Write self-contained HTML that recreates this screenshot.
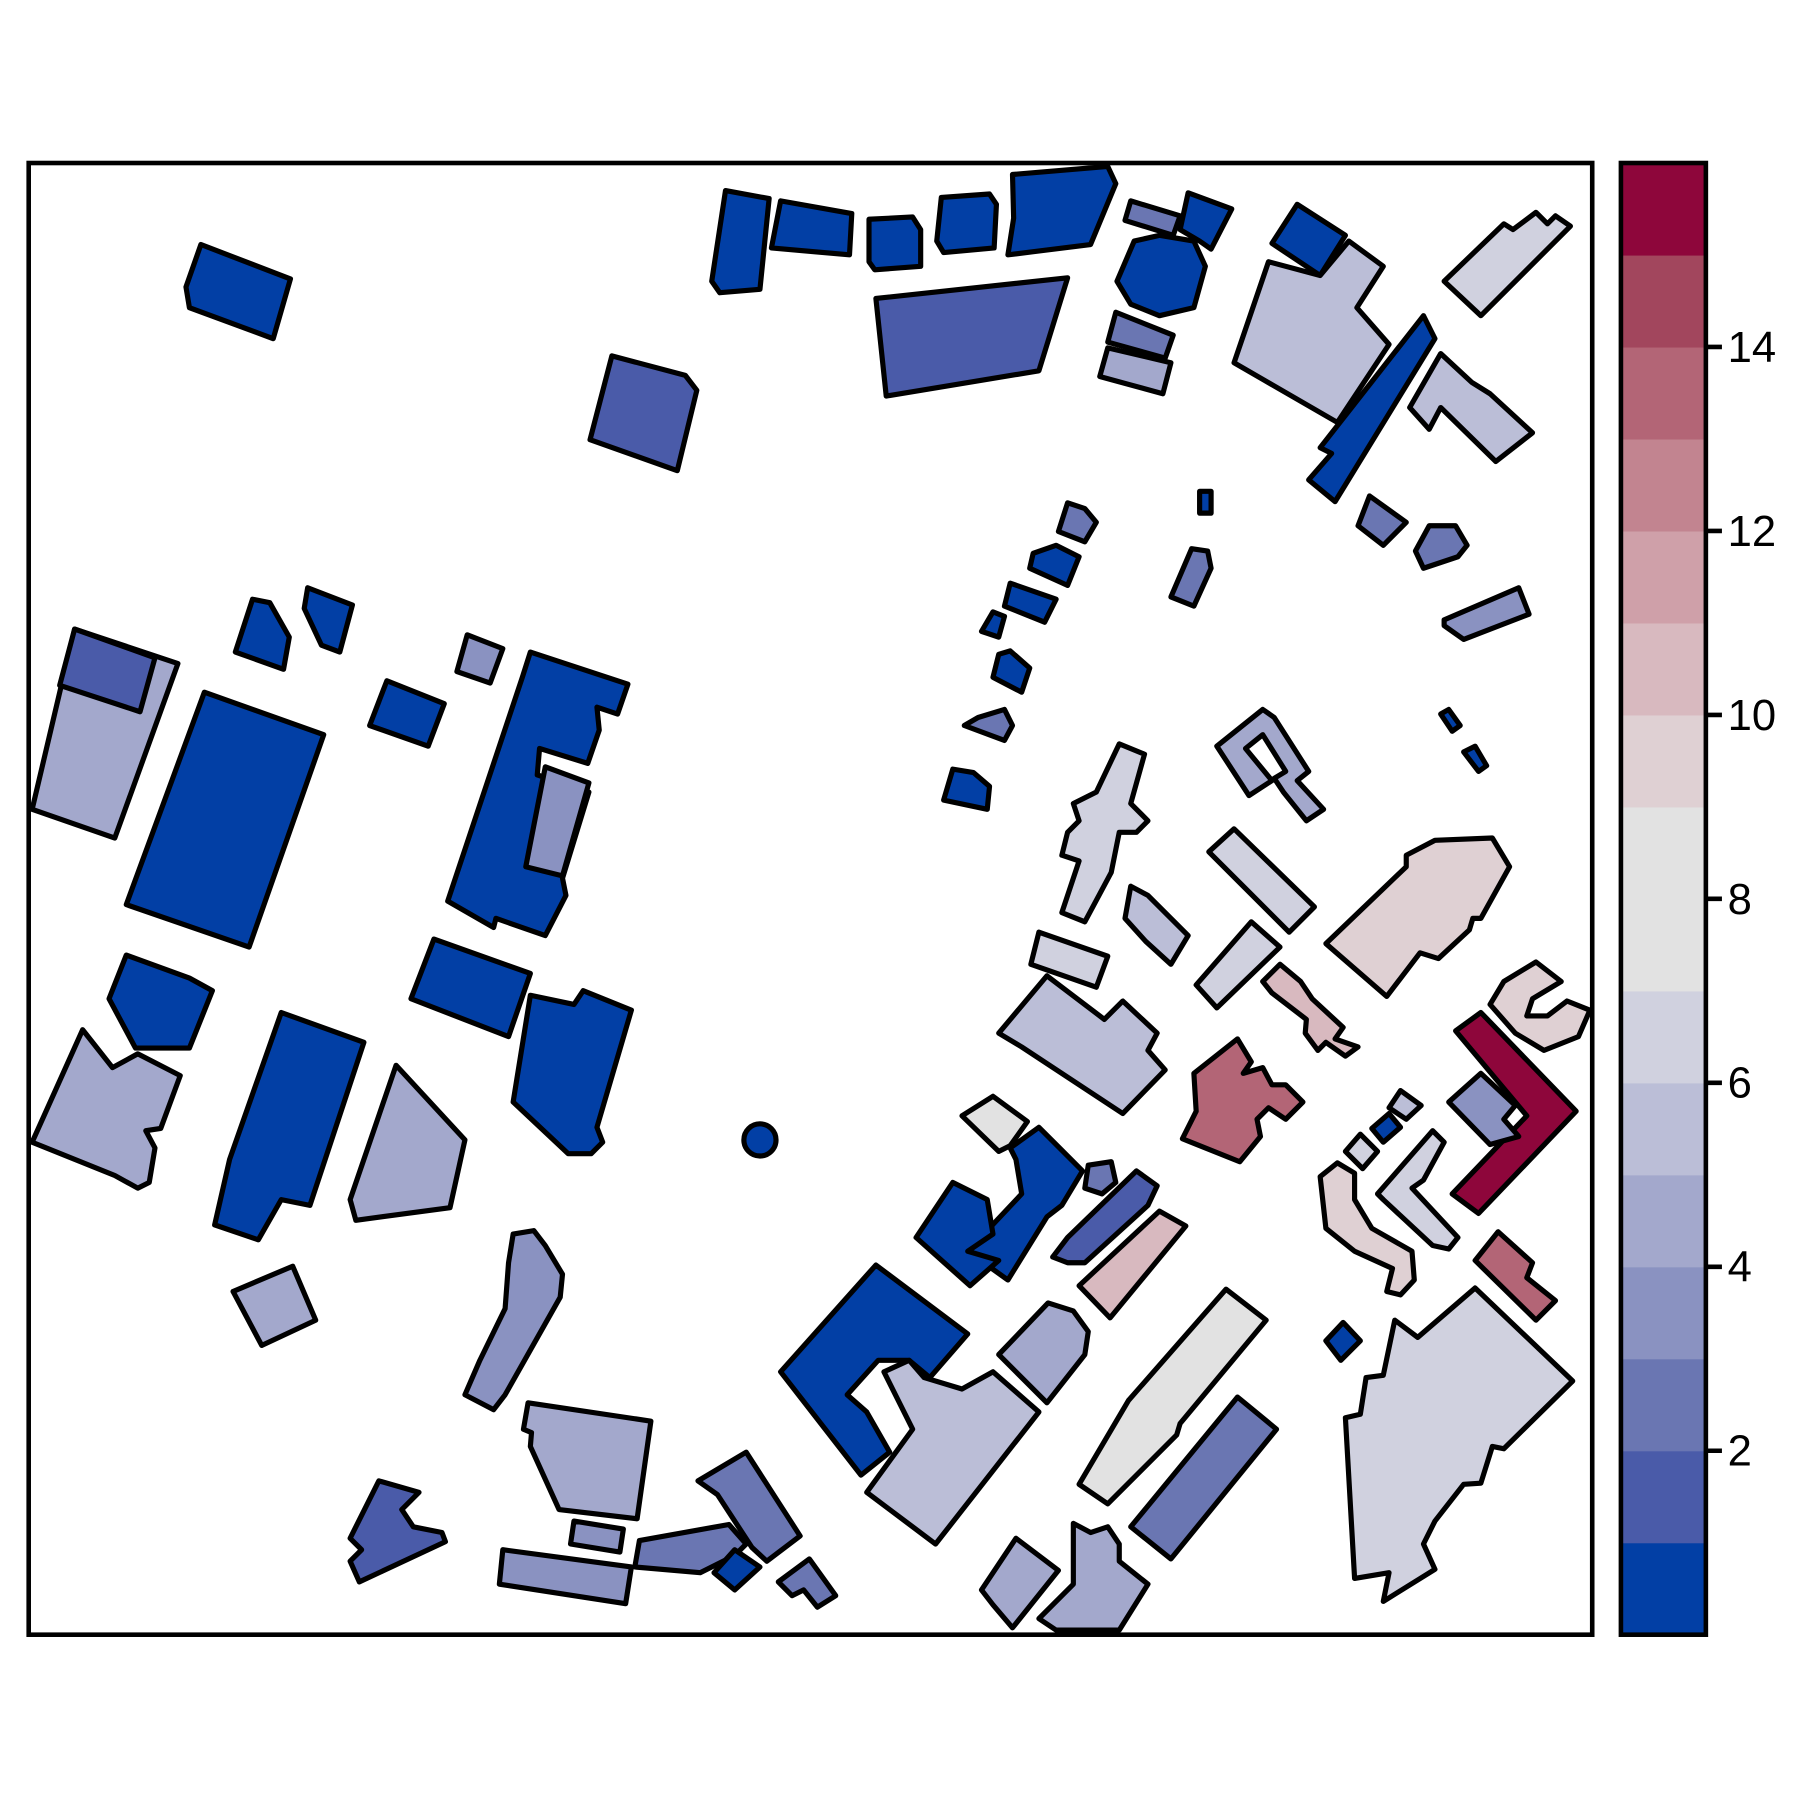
<!DOCTYPE html>
<html><head><meta charset="utf-8"><style>html,body{margin:0;padding:0;background:#fff}svg{display:block}</style></head>
<body>
<svg id="chart" width="1800" height="1800" viewBox="0 0 1568 1568" xmlns="http://www.w3.org/2000/svg">
<defs><clipPath id="pc"><rect x="25" y="142" width="1362" height="1282"/></clipPath></defs>
<g id="map" clip-path="url(#pc)"></g>
<rect x="25" y="142" width="1362" height="1282" fill="none" stroke="#000" stroke-width="4"/>
<g id="cbar"></g>
</svg>
<script>
const bandColors=["#023FA5","#4A5BA9","#6A76B2","#8A92C1","#A3A8CC","#BBBED7","#D0D1DF","#E2E2E2","#E2E2E2","#DFD0D3","#D8B9BF","#CFA0A9","#C28490","#B36576","#A2465D","#8E063B"];
const tickValues=[2,4,6,8,10,12,14];
const values=[
0.5,0.5,0.5,0.5,0.5,1.5,2.5,0.5,0.5,2,4.5,0.5,5.5,0.5,6.5,5,
0.5,1.5,0.5,0.5,4,1.5,0.5,3.5,0.5,0.5,3.5,0.5,0.5,4.5,0.5,4.5,
4.5,4.5,3.5,1.5,0.5,3,3,2.5,2.5,0.5,2.5,
0.5,0.5,0.5,2.5,0.5,2,0.5,0.5,2.5,2.5,2.5,3,0.5,0.5,
4.5,6.5,6.5,5.5,6,6,5.5,10.5,9.5,9.5,15.5,3.5,13.5,
5.5,0.5,6,6,9.5,13.5,0.5,6.5,
7.5,0.5,0.5,2.5,1.5,10.5,0.5,5.5,4.5,7.5,2.5,4.5,4.5];
const shapes=[
[[632,166],[670,173],[662,252],[627,255],[620,245]],
[[680,175],[742,186],[740,222],[672,216]],
[[757,191],[795,189],[802,200],[802,232],[762,235],[757,228]],
[[820,172],[862,169],[868,178],[866,216],[822,220],[816,210]],
[[882,152],[965,145],[972,160],[950,213],[878,222],[883,190]],
[[763,260],[930,242],[905,323],[772,345]],
[[985,175],[1028,188],[1022,205],[980,192]],
[[1035,168],[1073,182],[1055,217],[1045,210],[1028,200]],
[[988,210],[1010,205],[1040,210],[1050,232],[1040,268],[1010,275],[985,265],[973,245]],
[[972,272],[1022,292],[1015,312],[965,298]],
[[965,303],[1020,316],[1013,343],[958,328]],
[[1130,178],[1172,205],[1150,240],[1108,212]],
[[1105,228],[1150,240],[1175,210],[1205,232],[1182,268],[1210,300],[1165,368],[1075,316]],
[[1240,275],[1250,295],[1163,437],[1140,418],[1160,395],[1150,390]],
[[1258,245],[1310,195],[1318,200],[1338,185],[1348,195],[1355,188],[1368,197],[1290,275]],
[[1228,355],[1255,308],[1282,333],[1298,343],[1335,377],[1303,402],[1255,355],[1245,374]],
[[175,213],[253,243],[238,295],[165,268],[162,250]],
[[533,310],[597,327],[607,340],[590,410],[514,383]],
[[220,522],[235,525],[252,555],[247,583],[205,568]],
[[268,512],[307,527],[296,568],[280,562],[265,530]],
[[65,548],[155,578],[100,730],[28,705]],
[[65,548],[135,573],[122,620],[52,597]],
[[178,603],[282,640],[217,825],[110,788]],
[[407,553],[438,565],[427,595],[398,585]],
[[337,593],[387,613],[373,650],[322,632]],
[[462,568],[547,596],[538,622],[520,616],[522,636],[512,665],[470,652],[468,675],[513,690],[490,765],[493,780],[475,815],[432,800],[430,808],[390,785],[455,590]],
[[475,668],[513,682],[490,763],[458,755]],
[[378,818],[462,848],[443,903],[358,870]],
[[110,832],[165,852],[185,863],[165,913],[118,913],[95,870]],
[[72,897],[98,930],[120,918],[157,937],[140,983],[127,985],[135,1000],[130,1030],[120,1035],[100,1024],[28,995]],
[[462,867],[500,875],[508,863],[550,880],[520,982],[525,995],[515,1005],[495,1005],[447,960]],
[[345,928],[405,993],[392,1052],[310,1063],[305,1045]],
[[203,1125],[255,1103],[275,1150],[228,1172]],
[[460,1222],[567,1238],[555,1323],[487,1315],[462,1260],[463,1248],[456,1245]],
[[447,1075],[465,1072],[475,1085],[490,1110],[488,1130],[440,1215],[430,1228],[405,1215],[418,1185],[440,1140],[443,1100]],
[[330,1290],[365,1300],[350,1315],[360,1330],[385,1335],[388,1343],[313,1378],[305,1360],[315,1350],[305,1340]],
[[245,882],[317,908],[270,1050],[245,1045],[225,1080],[187,1067],[200,1010]],
[[500,1325],[543,1332],[540,1352],[497,1345]],
[[438,1350],[550,1365],[545,1397],[435,1380]],
[[557,1342],[635,1328],[650,1345],[640,1355],[610,1370],[553,1365]],
[[608,1290],[650,1265],[697,1338],[668,1360],[655,1348],[625,1302]],
[[640,1350],[662,1365],[640,1385],[622,1370]],
[[678,1378],[705,1358],[728,1390],[712,1400],[700,1385],[690,1390]],
[[865,533],[875,537],[870,555],[855,550]],
[[880,508],[920,522],[910,542],[875,528]],
[[900,482],[920,475],[940,485],[930,510],[897,495]],
[[930,438],[945,443],[955,455],[945,472],[922,463]],
[[870,570],[880,567],[897,582],[890,603],[865,590]],
[[852,625],[875,618],[882,632],[875,645],[840,632]],
[[830,670],[848,673],[862,685],[860,705],[822,697]],
[[1045,428],[1055,428],[1055,447],[1045,447]],
[[1038,478],[1052,480],[1055,495],[1040,528],[1020,520]],
[[1193,432],[1225,455],[1205,475],[1183,458]],
[[1245,458],[1268,458],[1278,475],[1270,485],[1240,495],[1233,480]],
[[1258,540],[1323,512],[1332,535],[1275,557],[1258,545]],
[[1255,622],[1262,618],[1272,632],[1265,637]],
[[1275,655],[1285,650],[1295,667],[1288,672]],
[[1060,650],[1100,618],[1110,625],[1140,672],[1130,680],[1153,705],[1138,715],[1118,690],[1110,678],[1120,672],[1100,640],[1085,652],[1108,680],[1088,693]],
[[975,648],[997,657],[985,700],[1000,715],[990,725],[975,725],[968,760],[945,803],[925,795],[940,750],[925,745],[930,725],[940,715],[935,700],[945,695],[955,690]],
[[1075,722],[1145,790],[1123,812],[1053,742]],
[[985,772],[1000,780],[1035,815],[1020,840],[998,820],[980,800]],
[[1090,803],[1115,825],[1060,878],[1042,858]],
[[905,812],[965,833],[955,860],[898,840]],
[[912,850],[962,888],[978,872],[1008,900],[1000,915],[1015,932],[978,970],[890,912],[870,900]],
[[1115,840],[1133,855],[1143,870],[1170,895],[1163,905],[1183,912],[1172,920],[1155,908],[1148,915],[1137,900],[1138,888],[1108,865],[1100,855]],
[[1155,822],[1225,755],[1225,745],[1250,732],[1300,730],[1315,755],[1290,800],[1283,800],[1280,810],[1253,835],[1237,830],[1208,868]],
[[1310,855],[1338,838],[1360,855],[1335,870],[1330,885],[1348,885],[1365,872],[1385,880],[1375,903],[1345,915],[1320,900],[1298,875]],
[[1268,898],[1290,882],[1373,968],[1288,1057],[1265,1040],[1330,972]],
[[1262,960],[1290,935],[1320,963],[1310,975],[1323,990],[1298,997]],
[[1040,935],[1078,905],[1090,925],[1083,935],[1100,930],[1108,945],[1120,945],[1135,960],[1120,975],[1105,965],[1095,975],[1098,990],[1080,1012],[1030,992],[1042,968]],
[[1220,950],[1238,963],[1225,975],[1210,965]],
[[1195,983],[1210,970],[1220,982],[1205,995]],
[[1172,1003],[1185,988],[1200,1003],[1187,1018]],
[[1200,1040],[1248,985],[1258,995],[1240,1028],[1230,1035],[1270,1078],[1262,1088],[1248,1085],[1205,1045]],
[[1150,1025],[1165,1013],[1180,1022],[1180,1045],[1195,1070],[1230,1090],[1232,1115],[1220,1128],[1208,1125],[1213,1105],[1180,1090],[1155,1070]],
[[1285,1098],[1305,1073],[1335,1100],[1330,1113],[1355,1133],[1338,1150]],
[[1155,1168],[1170,1152],[1185,1168],[1168,1185]],
[[1172,1235],[1185,1232],[1190,1200],[1205,1198],[1215,1150],[1235,1165],[1285,1122],[1370,1203],[1310,1262],[1300,1260],[1290,1292],[1275,1293],[1250,1325],[1240,1345],[1250,1367],[1205,1395],[1210,1370],[1180,1375]],
[[838,972],[865,955],[895,977],[880,998],[870,1003]],
[[880,1000],[905,982],[943,1020],[925,1050],[912,1060],[878,1115],[843,1090],[890,1040],[885,1010]],
[[830,1030],[860,1045],[865,1075],[843,1090],[870,1098],[845,1120],[798,1078]],
[[948,1015],[968,1012],[972,1030],[960,1040],[945,1035]],
[[930,1078],[990,1020],[1008,1033],[1000,1050],[945,1100],[930,1100],[917,1095]],
[[940,1120],[1010,1055],[1033,1068],[967,1148]],
[[680,1195],[763,1102],[843,1162],[810,1200],[792,1185],[765,1185],[738,1215],[755,1230],[775,1265],[750,1285]],
[[770,1195],[792,1185],[805,1200],[838,1210],[865,1195],[905,1230],[815,1345],[755,1300],[795,1245]],
[[870,1180],[913,1135],[935,1142],[948,1160],[945,1180],[912,1222]],
[[983,1220],[1068,1123],[1103,1150],[1028,1240],[1025,1250],[965,1310],[940,1293]],
[[985,1330],[1078,1217],[1112,1245],[1020,1358]],
[[855,1385],[885,1340],[922,1368],[882,1418],[865,1398]],
[[905,1410],[935,1380],[935,1327],[950,1335],[965,1330],[975,1345],[975,1360],[1000,1380],[975,1420],[940,1420],[920,1420]]
];
const NS="http://www.w3.org/2000/svg";
const cbTop=142,cbBot=1424,vmax=16;
function yScale(v){return cbBot-(v/vmax)*(cbBot-cbTop);}
function colorOf(v){return bandColors[Math.max(0,Math.min(15,Math.floor(v)))];}
const map=document.getElementById('map');
shapes.forEach((pts,i)=>{
  const p=document.createElementNS(NS,'polygon');
  p.setAttribute('points',pts.map(q=>q.join(',')).join(' '));
  p.setAttribute('fill',colorOf(values[i]));
  p.setAttribute('stroke','#000');p.setAttribute('stroke-width','4.5');p.setAttribute('stroke-linejoin','round');
  
  
  map.appendChild(p);
});
const c=document.createElementNS(NS,'circle');
c.setAttribute('cx',662);c.setAttribute('cy',993);c.setAttribute('r',14);
c.setAttribute('fill',colorOf(0.5));c.setAttribute('stroke','#000');c.setAttribute('stroke-width','4.5');


map.appendChild(c);
const cb=document.getElementById('cbar');
bandColors.forEach((col,i)=>{
  const r=document.createElementNS(NS,'rect');
  r.setAttribute('x',1412);r.setAttribute('width',74);
  r.setAttribute('y',yScale(i+1));r.setAttribute('height',yScale(i)-yScale(i+1)+0.5);
  r.setAttribute('fill',col);
  
  
  cb.appendChild(r);
});
const fr=document.createElementNS(NS,'rect');
fr.setAttribute('x',1412);fr.setAttribute('y',cbTop);fr.setAttribute('width',74);fr.setAttribute('height',cbBot-cbTop);
fr.setAttribute('fill','none');fr.setAttribute('stroke','#000');fr.setAttribute('stroke-width','4');


cb.appendChild(fr);
tickValues.forEach(t=>{
  const y=yScale(t);
  const l=document.createElementNS(NS,'line');
  l.setAttribute('x1',1486);l.setAttribute('x2',1500);l.setAttribute('y1',y);l.setAttribute('y2',y);
  l.setAttribute('stroke','#000');l.setAttribute('stroke-width','4');
  
  
  cb.appendChild(l);
  const tx=document.createElementNS(NS,'text');
  tx.setAttribute('x',1505);tx.setAttribute('y',y+13);
  tx.setAttribute('font-family','Liberation Sans, Arial, sans-serif');tx.setAttribute('font-size','38');
  tx.textContent=t;
  
  
  cb.appendChild(tx);
});
</script>
</body></html>
